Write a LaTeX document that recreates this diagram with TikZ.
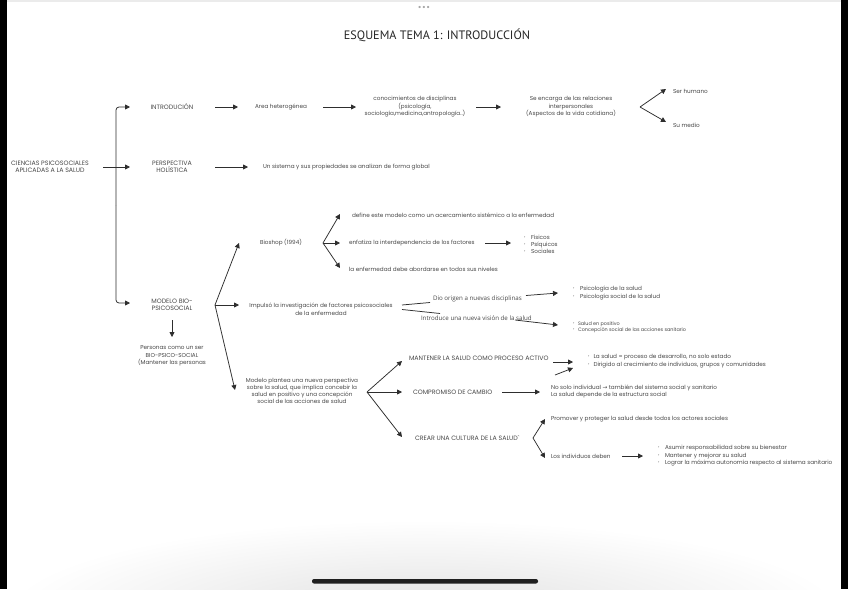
\documentclass[tikz,border=0pt]{standalone}
\usepackage{fontspec}
\setmainfont{Poppins}
\newfontfamily\titlefont{PT Sans}
\newfontfamily\osfont{Open Sans}
\newfontfamily\djvfont{DejaVu Sans}
\usetikzlibrary{arrows.meta}
\definecolor{txt}{HTML}{484848}
\definecolor{ink}{HTML}{2E2E2E}
\newcommand{\dotglyph}{\raisebox{0.35ex}{\fontsize{3.4}{3.4}\selectfont •}}
\newcommand{\mybul}{\makebox[7pt][l]{\dotglyph}}
\newcommand{\midbul}{\makebox[5.5pt][l]{\dotglyph}}
\newcommand{\smbul}{\makebox[5pt][l]{\dotglyph}}
\tikzset{
  tx/.style={inner sep=0pt, outer sep=0pt, text=txt, font=\fontsize{5.7}{7.5}\selectfont, align=center},
  hd/.style={inner sep=0pt, outer sep=0pt, text=txt, font=\fontsize{6.3}{7.5}\selectfont, align=center},
  os/.style={inner sep=0pt, outer sep=0pt, text=txt, font=\osfont\fontsize{6.2}{7}\selectfont},
  sm/.style={inner sep=0pt, outer sep=0pt, text=txt, font=\fontsize{4.9}{6}\selectfont, align=left},
  arr/.style={draw=ink, line width=0.75pt, -{Triangle[length=5pt,width=5pt]}},
  ln/.style={draw=ink, line width=0.75pt},
}
\begin{document}
\begin{tikzpicture}[x=1pt,y=-1pt]
\useasboundingbox (0,0) rectangle (848,589);
% background / screen frame
\fill[white] (0,0) rectangle (848,589);
\begin{scope}
  \clip (7,500) rectangle (841,589);
  \shade[inner color=black!12, outer color=white] (424,615) ellipse [x radius=420, y radius=95];
\end{scope}
\fill[black!8] (7,0) rectangle (841,2);
\fill[black] (0,0) rectangle (7,589);
\fill[black] (841,0) rectangle (848,589);
\fill[black!88, rounded corners=2pt] (312,579) rectangle (538,583.5);
\node[text=black!35, font=\fontsize{9}{9}\selectfont, inner sep=0pt] (dots) at (424,8) {•\hspace{0.6pt}•\hspace{0.6pt}•};

% title
\node[text=black!85, font=\titlefont\fontsize{12.2}{14}\selectfont, inner sep=0pt] (title) at (437,35) {ESQUEMA TEMA 1: INTRODUCCIÓN};

% text nodes
\node[hd] (cien) at (50,167) {CIENCIAS PSICOSOCIALES\\APLICADAS A LA SALUD};
\node[hd] (intro) at (172,107) {INTRODUCIÓN};
\node[tx] (area) at (281,107) {Area heterogénea};
\node[tx] (conoc) at (415,107) {conocimientos de disciplinas\\(psicología,\\sociología,medicina,antropología..)};
\node[tx] (enc) at (571,107) {Se encarga de las relaciones\\interpersonales\\(Aspectos de la vida cotidiana)};
\node[tx, anchor=west] (ser) at (673,91) {Ser humano};
\node[tx, anchor=west] (medio) at (673,125) {Su medio};
\node[hd] (persp) at (172,167) {PERSPECTIVA\\HOLÍSTICA};
\node[tx, anchor=west] (sist) at (263,167) {Un sistema y sus propiedades se analizan de forma global};
\node[hd] (modelo) at (172,305) {MODELO BIO-\\PSICOSOCIAL};
\node[tx] (pers) at (172,356) {Personas como un ser\\BIO-PSICO-SOCIAL\\(Mantener las personas};
\node[tx] (bios) at (281,243) {Bioshop (1994)};
\node[tx, anchor=west] (def) at (352,215) {define este modelo como un acercamiento sistémico a la enfermedad};
\node[tx, anchor=west] (enf) at (349,243) {enfatiza la interdependencia de los factores};
\node[tx, anchor=west, align=left, font=\fontsize{5.7}{7}\selectfont] (fac) at (524,244) {\mybul Físicos\\\mybul Psíquicos\\\mybul Sociales};
\node[tx, anchor=west] (niv) at (349,269) {la enfermedad debe abordarse en todos sus niveles};
\node[tx] (imp) at (321,309.5) {Impulsó la investigación de factores psicosociales\\de la enfermedad};
\node[os, anchor=west] (dio) at (433,299) {Dio origen a nuevas disciplinas};
\node[os, anchor=west] (introd) at (421,318) {Introduce una nueva visión de la salud};
\node[tx, anchor=west, align=left, font=\fontsize{5.7}{8}\selectfont] (psi) at (573,293) {\mybul Psicología de la salud\\\mybul Psicología social de la salud};
\node[sm, anchor=west] (sal) at (573,327) {\smbul Salud en positivo\\\smbul Concepción social de las acciones sanitario};
\node[tx, font=\fontsize{5.7}{7}\selectfont] (plan) at (302,391) {Modelo plantea una nueva perspectiva\\sobre la salud, que implica concebir la\\salud en positivo y una concepción\\social de las acciones de salud};
\node[hd, anchor=west] (mant) at (409,358) {MANTENER LA SALUD COMO PROCESO ACTIVO};
\node[tx, anchor=west, align=left, font=\fontsize{5.7}{8}\selectfont] (proc) at (588,361) {\midbul La salud = proceso de desarrollo, no solo estado\\\midbul Dirigido al crecimiento de individuos, grupos y comunidades};
\node[hd, anchor=west] (comp) at (413,392) {COMPROMISO DE CAMBIO};
\node[tx, anchor=west, align=left] (nosolo) at (551,391.5) {No solo individual {\djvfont→} también del sistema social y sanitario\\La salud depende de la estructura social};
\node[hd, anchor=west] (crear) at (415,438) {CREAR UNA CULTURA DE LA SALUD\textasciigrave};
\node[tx, anchor=west] (prom) at (551,419) {Promover y proteger la salud desde todos los actores sociales};
\node[tx, anchor=west] (indiv) at (551,456) {Los individuos deben};
\node[tx, anchor=west, align=left] (asum) at (658,456) {\mybul Asumir responsabilidad sobre su bienestar\\\mybul Mantener y mejorar su salud\\\mybul Lograr la máxima autonomía respecto al sistema sanitario};

% connector end points
\coordinate (cienOut) at (103,167);
\coordinate (brk) at (116,205);
\coordinate (introIn) at (130,107);
\coordinate (perspIn) at (130,167);
\coordinate (modeloIn) at (130,303);
\coordinate (introOut) at (215,107);
\coordinate (areaIn) at (238,107);
\coordinate (areaOut) at (323,107);
\coordinate (conocIn) at (356,107);
\coordinate (conocOut) at (476,107);
\coordinate (encIn) at (501,107);
\coordinate (encFork) at (640,107);
\coordinate (serIn) at (666,89);
\coordinate (medioIn) at (666,122);
\coordinate (perspOut) at (215,167);
\coordinate (sistIn) at (248,167);
\coordinate (modeloDown) at (172,320);
\coordinate (persIn) at (172,337);
\coordinate (modFork) at (215,305);
\coordinate (biosIn) at (239,243);
\coordinate (impIn) at (239,305);
\coordinate (planIn) at (235,390);
\coordinate (biosFork) at (323,243);
\coordinate (defIn) at (340,214);
\coordinate (enfIn) at (340,243);
\coordinate (nivIn) at (340,268);
\coordinate (enfOut) at (485,243);
\coordinate (facIn) at (511,243);
\coordinate (impA) at (402,305);
\coordinate (dioIn) at (430,302.5);
\coordinate (impB) at (402,309.5);
\coordinate (introdIn) at (440,313.5);
\coordinate (dioOut) at (526,295.5);
\coordinate (psiIn) at (558,293);
\coordinate (introdOut) at (515,320);
\coordinate (salIn) at (558,325);
\coordinate (planFork) at (367,392);
\coordinate (mantIn) at (402,361);
\coordinate (compIn) at (402,392);
\coordinate (crearIn) at (402,437);
\coordinate (mantOut) at (553,362);
\coordinate (procIn) at (573,362);
\coordinate (mantOutB) at (555,375);
\coordinate (procInB) at (573,368);
\coordinate (compOut) at (502,392);
\coordinate (nosoloIn) at (540,392);
\coordinate (crearFork) at (533,438);
\coordinate (promIn) at (545,419);
\coordinate (indivIn) at (545,458);
\coordinate (indivOut) at (622,456);
\coordinate (asumIn) at (643,456);

% connectors
\draw[arr] (cienOut) -- (perspIn);
\draw[arr, rounded corners=3pt] (brk) |- (introIn);
\draw[arr, rounded corners=3pt] (brk) |- (modeloIn);
\draw[arr] (introOut) -- (areaIn);
\draw[arr] (areaOut) -- (conocIn);
\draw[arr] (conocOut) -- (encIn);
\draw[arr] (encFork) -- (serIn);
\draw[arr] (encFork) -- (medioIn);
\draw[arr] (perspOut) -- (sistIn);
\draw[arr] (modeloDown) -- (persIn);
\draw[arr] (modFork) -- (biosIn);
\draw[arr] (modFork) -- (impIn);
\draw[arr] (modFork) -- (planIn);
\draw[arr] (biosFork) -- (defIn);
\draw[arr] (biosFork) -- (enfIn);
\draw[arr] (biosFork) -- (nivIn);
\draw[arr] (enfOut) -- (facIn);
\draw[ln] (impA) -- (dioIn);
\draw[ln] (impB) -- (introdIn);
\draw[arr] (dioOut) -- (psiIn);
\draw[arr] (introdOut) -- (salIn);
\draw[arr] (planFork) -- (mantIn);
\draw[arr] (planFork) -- (compIn);
\draw[arr] (planFork) -- (crearIn);
\draw[arr] (mantOut) -- (procIn);
\draw[arr] (mantOutB) -- (procInB);
\draw[arr] (compOut) -- (nosoloIn);
\draw[arr] (crearFork) -- (promIn);
\draw[arr] (crearFork) -- (indivIn);
\draw[arr] (indivOut) -- (asumIn);
\end{tikzpicture}
\end{document}
